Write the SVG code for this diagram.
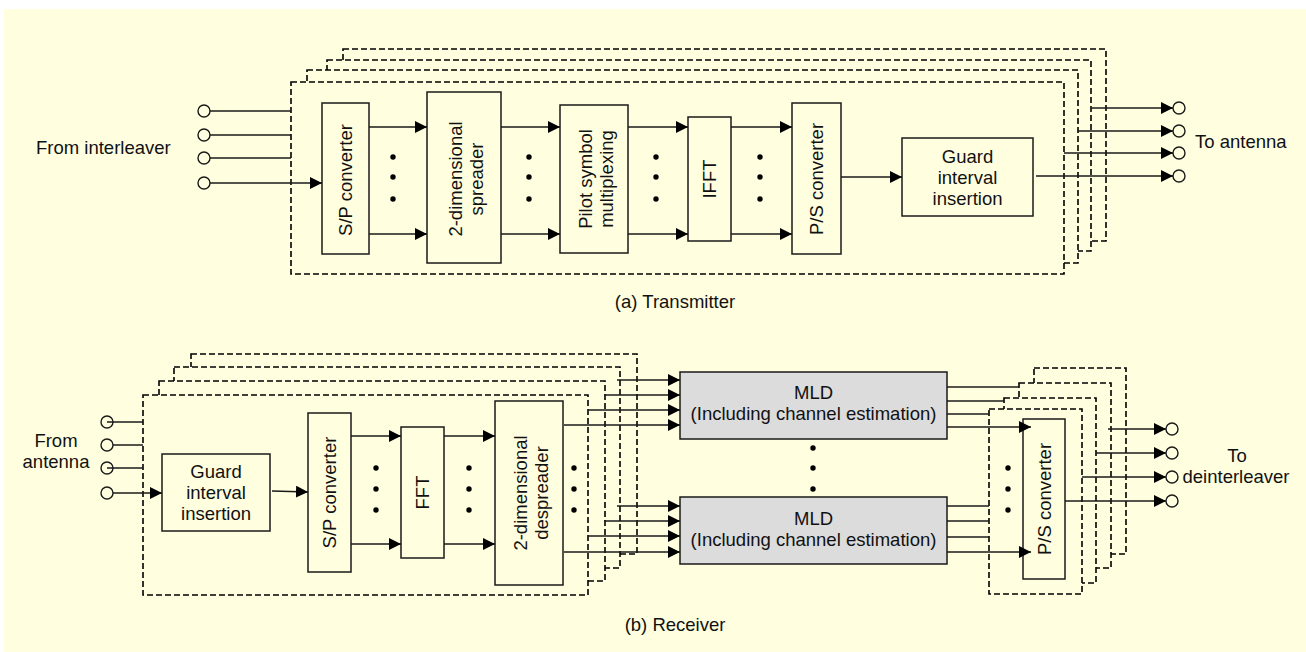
<svg xmlns="http://www.w3.org/2000/svg" width="1306" height="652" viewBox="0 0 1306 652">
<defs>
<style>
.bg{fill:#FFFFE0;}
.frame{fill:#FFFFE0;stroke:#000;stroke-width:1.6;stroke-dasharray:6 3;}
.box{fill:#FFFFE0;stroke:#1a1a1a;stroke-width:1.5;}
.mld{fill:#DCDCDC;stroke:#1a1a1a;stroke-width:1.5;}
.ln{stroke:#1a1a1a;stroke-width:1.5;fill:none;}
.arr{marker-end:url(#ah);}
.term{fill:none;stroke:#1a1a1a;stroke-width:1.4;}
.dot{fill:#000;}
text{font-family:"Liberation Sans",Arial,sans-serif;font-size:18.5px;fill:#111;}
.c{text-anchor:middle;}
</style>
<marker id="ah" viewBox="0 0 12 12" refX="12" refY="6" markerWidth="12" markerHeight="12" markerUnits="userSpaceOnUse" orient="auto">
<path d="M0,0 L12,6 L0,12 z" fill="#000"/>
</marker>
</defs>
<rect x="0" y="0" width="1306" height="652" fill="#FFFFFF"/>
<rect class="bg" x="4" y="9" width="1302" height="643"/>

<!-- ============ (a) Transmitter ============ -->
<g id="tx-frames">
<rect class="frame" x="343" y="49" width="763" height="192"/>
<rect class="frame" x="327" y="60" width="764" height="191"/>
<rect class="frame" x="307" y="70" width="771" height="193"/>
<rect class="frame" x="291" y="82" width="773" height="192"/>
</g>

<g id="tx-sp">
<rect class="box" x="322" y="103" width="47" height="151"/>
<text class="c" transform="translate(345.5,180) rotate(-90)" y="6.5">S/P converter</text>
</g>
<g id="tx-spreader">
<rect class="box" x="427" y="92" width="74" height="171"/>
<text class="c" transform="translate(464,179) rotate(-90)"><tspan x="0" y="-2">2-dimensional</tspan><tspan x="0" y="19">spreader</tspan></text>
</g>
<g id="tx-pilot">
<rect class="box" x="560" y="105" width="68" height="148"/>
<text class="c" transform="translate(594,179) rotate(-90)"><tspan x="0" y="-2">Pilot symbol</tspan><tspan x="0" y="19">multiplexing</tspan></text>
</g>
<g id="tx-ifft">
<rect class="box" x="688" y="117" width="43" height="124"/>
<text class="c" transform="translate(709.5,179) rotate(-90)" y="6.5">IFFT</text>
</g>
<g id="tx-ps">
<rect class="box" x="792" y="103" width="49" height="151"/>
<text class="c" transform="translate(816.5,179) rotate(-90)" y="6.5">P/S converter</text>
</g>
<g id="tx-guard">
<rect class="box" x="902" y="138" width="131" height="78"/>
<text class="c" x="967.5" y="163">Guard</text>
<text class="c" x="967.5" y="184">interval</text>
<text class="c" x="967.5" y="205">insertion</text>
</g>

<g id="tx-terminals">
<circle class="term" cx="204" cy="111" r="6"/>
<circle class="term" cx="204" cy="135" r="6"/>
<circle class="term" cx="204" cy="158" r="6"/>
<circle class="term" cx="204" cy="183" r="6"/>
<circle class="term" cx="1179" cy="108" r="6"/>
<circle class="term" cx="1179" cy="131" r="6"/>
<circle class="term" cx="1179" cy="153" r="6"/>
<circle class="term" cx="1179" cy="176" r="6"/>
</g>

<g id="tx-connectors">
<line class="ln" x1="210" y1="111" x2="291" y2="111"/>
<line class="ln" x1="210" y1="135" x2="291" y2="135"/>
<line class="ln" x1="210" y1="158" x2="291" y2="158"/>
<line class="ln arr" x1="210" y1="183" x2="322" y2="183"/>
<line class="ln arr" x1="369" y1="127" x2="427" y2="127"/>
<line class="ln arr" x1="369" y1="234" x2="427" y2="234"/>
<line class="ln arr" x1="501" y1="127" x2="560" y2="127"/>
<line class="ln arr" x1="501" y1="234" x2="560" y2="234"/>
<line class="ln arr" x1="628" y1="127" x2="688" y2="127"/>
<line class="ln arr" x1="628" y1="234" x2="688" y2="234"/>
<line class="ln arr" x1="731" y1="127" x2="792" y2="127"/>
<line class="ln arr" x1="731" y1="234" x2="792" y2="234"/>
<line class="ln arr" x1="841" y1="177" x2="902" y2="177"/>
<line class="ln arr" x1="1091" y1="108" x2="1173" y2="108"/>
<line class="ln arr" x1="1078" y1="131" x2="1173" y2="131"/>
<line class="ln arr" x1="1064" y1="153" x2="1173" y2="153"/>
<line class="ln arr" x1="1036" y1="176" x2="1173" y2="176"/>
</g>

<g id="tx-dots">
<circle class="dot" cx="393" cy="157" r="2.7"/><circle class="dot" cx="393" cy="177" r="2.7"/><circle class="dot" cx="393" cy="199" r="2.7"/>
<circle class="dot" cx="529" cy="157" r="2.7"/><circle class="dot" cx="529" cy="177" r="2.7"/><circle class="dot" cx="529" cy="199" r="2.7"/>
<circle class="dot" cx="656" cy="157" r="2.7"/><circle class="dot" cx="656" cy="177" r="2.7"/><circle class="dot" cx="656" cy="199" r="2.7"/>
<circle class="dot" cx="760" cy="157" r="2.7"/><circle class="dot" cx="760" cy="177" r="2.7"/><circle class="dot" cx="760" cy="199" r="2.7"/>
</g>

<g id="tx-labels">
<text x="36" y="154">From interleaver</text>
<text x="1195" y="148">To antenna</text>
<text class="c" x="675" y="308">(a) Transmitter</text>
</g>

<!-- ============ (b) Receiver ============ -->
<g id="rx-frames-left">
<rect class="frame" x="191" y="354" width="446" height="200"/>
<rect class="frame" x="174" y="367" width="446" height="201"/>
<rect class="frame" x="159" y="381" width="446" height="200"/>
<rect class="frame" x="143" y="395" width="445" height="200"/>
</g>
<g id="rx-frames-right">
<rect class="frame" x="1034" y="368" width="92" height="186"/>
<rect class="frame" x="1019" y="383" width="92" height="185"/>
<rect class="frame" x="1004" y="398" width="92" height="185"/>
<rect class="frame" x="989" y="409" width="93" height="185"/>
</g>

<g id="rx-guard">
<rect class="box" x="162" y="454" width="108" height="77"/>
<text class="c" x="216" y="478">Guard</text>
<text class="c" x="216" y="499">interval</text>
<text class="c" x="216" y="520">insertion</text>
</g>
<g id="rx-sp">
<rect class="box" x="308" y="413" width="43" height="159"/>
<text class="c" transform="translate(329.5,492.5) rotate(-90)" y="6.5">S/P converter</text>
</g>
<g id="rx-fft">
<rect class="box" x="401" y="427" width="43" height="131"/>
<text class="c" transform="translate(422.5,492.5) rotate(-90)" y="6.5">FFT</text>
</g>
<g id="rx-despreader">
<rect class="box" x="495" y="401" width="68" height="184"/>
<text class="c" transform="translate(529,493) rotate(-90)"><tspan x="0" y="-2">2-dimensional</tspan><tspan x="0" y="19">despreader</tspan></text>
</g>
<g id="rx-mld1">
<rect class="mld" x="680" y="372" width="267" height="67"/>
<text class="c" x="813.5" y="399">MLD</text>
<text class="c" x="813.5" y="420">(Including channel estimation)</text>
</g>
<g id="rx-mld2">
<rect class="mld" x="680" y="497" width="267" height="67"/>
<text class="c" x="813.5" y="525">MLD</text>
<text class="c" x="813.5" y="546">(Including channel estimation)</text>
</g>
<g id="rx-ps">
<rect class="box" x="1023" y="419" width="42" height="160"/>
<text class="c" transform="translate(1044,499) rotate(-90)" y="6.5">P/S converter</text>
</g>

<g id="rx-terminals">
<circle class="term" cx="107" cy="422" r="6"/>
<circle class="term" cx="107" cy="445" r="6"/>
<circle class="term" cx="107" cy="468" r="6"/>
<circle class="term" cx="107" cy="493" r="6"/>
<circle class="term" cx="1172" cy="429" r="6"/>
<circle class="term" cx="1172" cy="453" r="6"/>
<circle class="term" cx="1172" cy="477" r="6"/>
<circle class="term" cx="1172" cy="501" r="6"/>
</g>

<g id="rx-connectors">
<line class="ln" x1="107" y1="422" x2="143" y2="422"/>
<line class="ln" x1="113" y1="445" x2="143" y2="445"/>
<line class="ln" x1="107" y1="468" x2="143" y2="468"/>
<line class="ln arr" x1="113" y1="493" x2="162" y2="493"/>
<line class="ln arr" x1="272" y1="491" x2="308" y2="492"/>
<line class="ln arr" x1="351" y1="436" x2="401" y2="436"/>
<line class="ln arr" x1="351" y1="544" x2="401" y2="544"/>
<line class="ln arr" x1="444" y1="436" x2="495" y2="436"/>
<line class="ln arr" x1="444" y1="544" x2="495" y2="544"/>
<line class="ln arr" x1="617" y1="380" x2="680" y2="380"/>
<line class="ln arr" x1="604" y1="395" x2="680" y2="395"/>
<line class="ln arr" x1="588" y1="410" x2="680" y2="410"/>
<line class="ln arr" x1="564" y1="425" x2="680" y2="425"/>
<line class="ln arr" x1="617" y1="506" x2="680" y2="506"/>
<line class="ln arr" x1="604" y1="521" x2="680" y2="521"/>
<line class="ln arr" x1="588" y1="536" x2="680" y2="536"/>
<line class="ln arr" x1="564" y1="552" x2="680" y2="552"/>
<line class="ln" x1="947" y1="387" x2="1019" y2="387"/>
<line class="ln" x1="947" y1="401" x2="1004" y2="401"/>
<line class="ln" x1="947" y1="414" x2="989" y2="414"/>
<line class="ln arr" x1="947" y1="427" x2="1031" y2="427"/>
<line class="ln" x1="947" y1="506" x2="989" y2="506"/>
<line class="ln" x1="947" y1="521" x2="989" y2="521"/>
<line class="ln" x1="947" y1="537" x2="989" y2="537"/>
<line class="ln arr" x1="947" y1="552" x2="1031" y2="552"/>
<line class="ln arr" x1="1108" y1="429" x2="1166" y2="429"/>
<line class="ln arr" x1="1096" y1="453" x2="1166" y2="453"/>
<line class="ln arr" x1="1082" y1="477" x2="1166" y2="477"/>
<line class="ln arr" x1="1065" y1="501" x2="1166" y2="501"/>
</g>

<g id="rx-dots">
<circle class="dot" cx="376" cy="468" r="2.7"/><circle class="dot" cx="376" cy="489" r="2.7"/><circle class="dot" cx="376" cy="510" r="2.7"/>
<circle class="dot" cx="469" cy="468" r="2.7"/><circle class="dot" cx="469" cy="489" r="2.7"/><circle class="dot" cx="469" cy="510" r="2.7"/>
<circle class="dot" cx="574" cy="468" r="2.7"/><circle class="dot" cx="574" cy="489" r="2.7"/><circle class="dot" cx="574" cy="510" r="2.7"/>
<circle class="dot" cx="813" cy="448" r="2.7"/><circle class="dot" cx="813" cy="468" r="2.7"/><circle class="dot" cx="813" cy="489" r="2.7"/>
<circle class="dot" cx="1008" cy="468" r="2.7"/><circle class="dot" cx="1008" cy="489" r="2.7"/><circle class="dot" cx="1008" cy="510" r="2.7"/>
</g>

<g id="rx-labels">
<text class="c" x="56" y="447">From</text>
<text class="c" x="56" y="468">antenna</text>
<text class="c" x="1237" y="462">To</text>
<text class="c" x="1236" y="483">deinterleaver</text>
<text class="c" x="675" y="631">(b) Receiver</text>
</g>
</svg>
